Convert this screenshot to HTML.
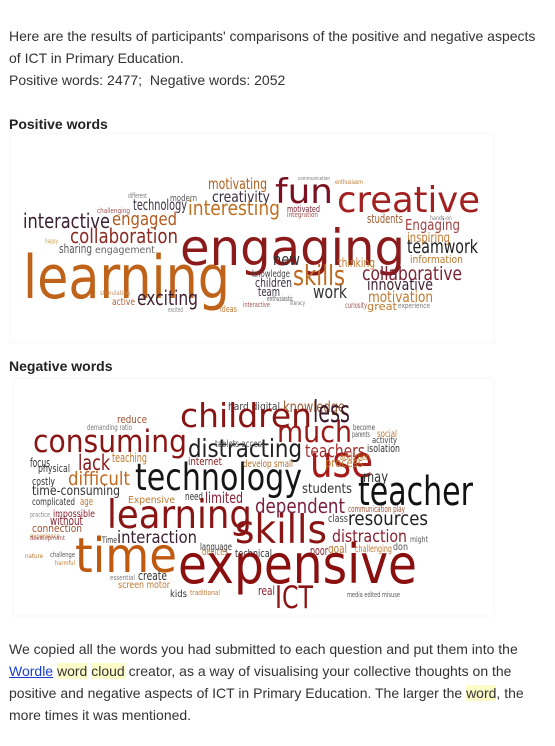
<!DOCTYPE html>
<html><head><meta charset="utf-8">
<style>
body{margin:0;background:#fff;width:555px;height:746px;overflow:hidden;font-family:"Liberation Sans",Arial,sans-serif;color:#333;font-size:14px;}
.t{position:absolute;left:9px;white-space:nowrap;line-height:22px;}
b{font-weight:bold;color:#222}
a{color:#1a3fd0;text-decoration:underline}
.hl{background:#fdfbc8}
svg{position:absolute;left:0;}
svg text{font-family:"DejaVu Sans","Liberation Sans",sans-serif;}
</style></head><body>
<div class="t" style="top:25px">Here are the results of participants' comparisons of the positive and negative aspects<br>of ICT in Primary Education.</div>
<div class="t" style="top:69px">Positive words: 2477;&nbsp; Negative words: 2052</div>
<div class="t" style="top:113px"><b>Positive words</b></div>
<svg id="pos" width="555" height="220" style="top:130px"><rect x="10" y="3" width="484" height="210" fill="#fff" stroke="#f7f7f7"/></svg>
<div class="t" style="top:355px"><b>Negative words</b></div>
<svg id="neg" width="555" height="250" style="top:375px"><rect x="13" y="3" width="481" height="238" fill="#fff" stroke="#f7f7f7"/></svg>
<div class="t" style="top:638px">We copied all the words you had submitted to each question and put them into the<br><a href="#">Wordle</a> <span class="hl">word</span> <span class="hl">cloud</span> creator, as a way of visualising your collective thoughts on the<br>positive and negative aspects of ICT in Primary Education. The larger the <span class="hl">word</span>, the<br>more times it was mentioned.</div>
<script>
// [word, x, baseline(y abs page), width, fontSize, color]
const posWords=[
["learning",23,298,207,60,"#c0631a"],["engaging",180,265,225,50,"#8b1a1a"],["fun",275,203,58,34,"#7a1020"],["creative",337,212,143,36,"#a32020"],
["interactive",23,228,87,20,"#3a2030"],["engaged",112,225,65,18,"#b05a20"],["collaboration",70,243,108,20,"#8b2a20"],["sharing",59,253,33,12,"#555"],
["engagement",95,253,60,10,"#666"],["exciting",137,305,61,20,"#402030"],["active",112,305,23,10,"#b06030"],["excited",168,312,15,7,"#888"],
["technology",133,210,54,15,"#3a3040"],["modern",170,201,27,9,"#555"],["different",128,198,19,7,"#777"],["challenging",97,213,33,7,"#a05050"],
["motivating",208,189,59,15,"#b06020"],["creativity",212,202,58,15,"#3a3040"],["interesting",188,215,92,20,"#c07020"],["motivated",287,212,33,9,"#7a2030"],
["integration",287,217,31,7,"#a05050"],["students",367,223,36,12,"#a05a30"],["Engaging",405,230,55,15,"#a04040"],["inspiring",407,242,43,13,"#c07a30"],
["teamwork",407,253,71,19,"#202020"],["information",410,263,53,11,"#c07a30"],["new",273,265,27,16,"#333"],["thinking",338,267,37,12,"#c07a30"],
["collaborative",362,280,100,19,"#7a2030"],["knowledge",252,277,38,10,"#444"],["skills",293,285,52,28,"#c06a20"],["children",255,287,37,12,"#3a3040"],
["team",258,296,22,12,"#3a3040"],["work",313,298,34,18,"#333"],["innovative",367,290,66,16,"#402030"],["motivation",368,302,65,15,"#c07a30"],
["great",367,310,30,11,"#c07a30"],["curiosity",345,308,22,8,"#a05050"],["experience",398,308,32,7,"#777"],["enthusiastic",267,301,26,7,"#555"],
["ideas",220,312,17,9,"#c07a30"],["interactive",243,307,27,7,"#a05050"],["literacy",290,305,15,6,"#777"],["happy",45,243,13,6,"#d0a040"],
["communication",298,180,32,5,"#777"],["enthusiasm",335,184,28,6,"#c07a30"],["stimulating",100,295,30,6,"#c09060"],["hands-on",430,220,22,6,"#777"]
];
const negWords=[
["knowledge",283,412,62,15,"#9a5a30"],["less",313,422,37,30,"#3a1a2a"],["hard digital",228,410,52,11,"#444"],["children",180,427,132,33,"#8a1515"],
["much",277,442,75,29,"#9a1a1a"],["consuming",33,452,154,31,"#8a1515"],["distracting",188,457,114,25,"#202020"],["teachers",305,457,60,18,"#a03030"],
["use",310,477,63,44,"#a51a1a"],["reduce",117,423,30,11,"#a05030"],["demanding ratio",87,430,45,8,"#777"],["focus",30,467,20,12,"#333"],
["lack",78,470,32,21,"#8a1515"],["teaching",112,462,35,12,"#c07a30"],["physical",38,472,32,11,"#333"],["difficult",68,485,62,19,"#c06a20"],
["costly",32,485,23,11,"#333"],["technology",135,490,167,37,"#151515"],["tablets access",215,447,50,10,"#555"],["internet",188,465,34,11,"#8a2020"],
["develop small",243,467,50,10,"#b07030"],["process",325,467,38,12,"#c07a30"],["addiction",340,460,30,10,"#c07a30"],["isolation",367,452,33,11,"#333"],
["activity",372,443,25,9,"#444"],["social",377,437,20,10,"#c07a30"],["parents",352,437,18,8,"#555"],["become",353,430,22,8,"#555"],
["may",363,482,25,15,"#333"],["students",302,493,50,13,"#333"],["teacher",358,505,115,40,"#111"],["time-consuming",32,495,88,13,"#333"],
["complicated",32,505,43,10,"#333"],["age",80,505,13,11,"#c07a30"],["Expensive",128,503,47,10,"#c07a30"],["need",185,500,18,11,"#333"],
["limited",205,503,38,15,"#8a2030"],["dependent",255,513,90,20,"#7a2040"],["learning",107,528,145,39,"#8a1515"],["impossible",53,517,42,10,"#8a2030"],
["practice",30,517,20,7,"#888"],["without",50,525,33,12,"#8a2030"],["connection",32,532,50,11,"#a05030"],["Time",102,543,15,9,"#333"],
["interaction",117,543,80,17,"#3a2030"],["skills",235,543,92,39,"#8a1515"],["class",328,522,20,11,"#444"],["resources",348,525,80,19,"#202020"],
["communication play",348,512,57,9,"#a05030"],["distraction",332,542,75,17,"#8a2030"],["time",75,572,102,48,"#c05a10"],["language",200,550,32,10,"#333"],
["devices",202,555,26,10,"#c07a30"],["technical",235,557,37,11,"#333"],["poor",310,555,18,12,"#8a2030"],["goal",328,553,19,12,"#c07a30"],
["challenging",355,552,37,10,"#c07a30"],["don",393,550,15,10,"#555"],["expensive",178,583,239,54,"#8a1010"],["ICT",275,608,38,31,"#8a1515"],
["create",138,580,29,12,"#333"],["screen motor",118,588,52,10,"#c07a30"],["kids",170,597,17,10,"#333"],["real",258,595,17,12,"#8a2030"],
["media edited misuse",347,597,53,7,"#555"],["traditional",190,595,30,7,"#c07a30"],["essential",110,580,25,7,"#777"],["experience",30,538,30,6,"#c07a30"],
["nature",25,558,18,6,"#c07a30"],["challenge",50,557,25,7,"#555"],["harmful",55,565,20,6,"#c07a30"],["development",30,540,35,6,"#a05050"],["might",410,542,18,8,"#555"]
];
function draw(id,words,offY){
  const svg=document.getElementById(id);
  words.forEach(w=>{
    const t=document.createElementNS("http://www.w3.org/2000/svg","text");
    
    
    t.setAttribute("x",w[1]);t.setAttribute("y",w[2]-offY);
    t.setAttribute("font-size",w[4]);t.setAttribute("fill",w[5]);
    t.setAttribute("textLength",w[3]);t.setAttribute("lengthAdjust","spacingAndGlyphs");
    t.textContent=w[0];svg.appendChild(t);
  });
}
draw("pos",posWords,130);
draw("neg",negWords,375);
</script>
</body></html>
